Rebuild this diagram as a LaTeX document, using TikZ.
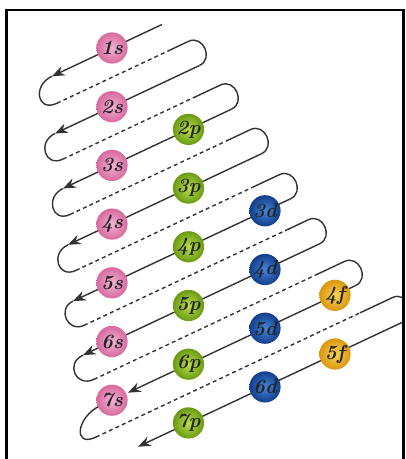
\documentclass[tikz,border=0pt]{standalone}
\usetikzlibrary{arrows.meta}
\definecolor{ink}{HTML}{333333}
\definecolor{sIn}{HTML}{F0B3D3}
\definecolor{sOut}{HTML}{D8699F}
\definecolor{pIn}{HTML}{BADF48}
\definecolor{pOut}{HTML}{6A9A14}
\definecolor{dIn}{HTML}{4585DC}
\definecolor{dOut}{HTML}{123E8C}
\definecolor{fIn}{HTML}{F9D452}
\definecolor{fOut}{HTML}{DB960F}

\begin{document}
\begin{tikzpicture}[x=0.025cm, y=-0.025cm, >={Stealth[length=9pt,width=7pt]},
  orb/.style={circle, minimum size=0.78cm, inner sep=0pt, font=\Large\bfseries\itshape, text=black!85},
  sorb/.style={orb, inner color=sIn, outer color=sOut},
  porb/.style={orb, inner color=pIn, outer color=pOut},
  dorb/.style={orb, inner color=dIn, outer color=dOut},
  forb/.style={orb, inner color=fIn, outer color=fOut},
  lane/.style={draw=ink, line width=1pt},
  back/.style={lane, dash pattern=on 2.8pt off 2.3pt}]
  \useasboundingbox (0,0) rectangle (406,459);
  \begin{scope}
    \clip (6.5,10) rectangle (403.5,459);
    % lane m: arrow tip, loop start, dash start, dash end, turn, loop depth
    \coordinate (a1) at (162,24.5);
    \foreach \m/\xb/\xl/\xc/\xe/\xr/\lk in {1/52/52/57/170/188.5/22, 2/55/55/63/196/220.5/20,
        3/63/63/70/228/250.5/20, 4/68/68/76/255/279.5/20, 5/73/73/84/285/308.5/18,
        6/83/83/94/316/344.5/20, 7/128/100/96/360/392.5/26}{
      \pgfmathtruncatemacro\nx{\m+1}
      \coordinate (b\m) at (\xb,{48+58.7*(\m-1)-0.4706*(\xb-112)});
      \coordinate (l\m) at (\xl,{48+58.7*(\m-1)-0.4706*(\xl-112)});
      \coordinate (c\m) at (\xc,{77.35+58.7*(\m-1)-0.4706*(\xc-112)});
      \coordinate (e\m) at (\xe,{77.35+58.7*(\m-1)-0.4706*(\xe-112)});
      \coordinate (r\m) at (\xr,{77.35+58.7*(\m-1)-0.4706*(\xr-112)});
      \coordinate (a\nx) at ({\xr+11},{48+58.7*\m-0.4706*(\xr-101)});
      \draw[lane,->] (a\m) -- (b\m);
      \draw[lane] (l\m) .. controls +({-0.905*\lk},{0.426*\lk}) and +({-0.905*\lk},{0.426*\lk}) .. (c\m);
      \draw[back] (c\m) -- (e\m);
      \draw[lane] (e\m) -- (r\m) .. controls +(14.5,-6.8) and +(14.5,-6.8) .. (a\nx);
    }
    \coordinate (b8) at (138,446.7);
    \draw[lane,->] (a8) -- (b8);
  \end{scope}
  % orbitals
  \foreach \pn in {1,...,7} \node[sorb] (o\pn s) at (112,{48+58.7*(\pn-1)}) {\pn s};
  \foreach \pn in {2,...,7} \node[porb] (o\pn p) at (188.5,{12+58.7*\pn}) {\pn p};
  \foreach \pn in {3,...,6} \node[dorb] (o\pn d) at (265,{-24+58.7*(\pn+1)}) {\pn d};
  \foreach \pn in {4,5} \node[forb] (o\pn f) at (335,{-56.9+58.7*(\pn+2)}) {\pn f};
  \draw[line width=1.8pt] (6.5,459) -- (6.5,10) -- (403.5,10) -- (403.5,459);
\end{tikzpicture}
\end{document}
